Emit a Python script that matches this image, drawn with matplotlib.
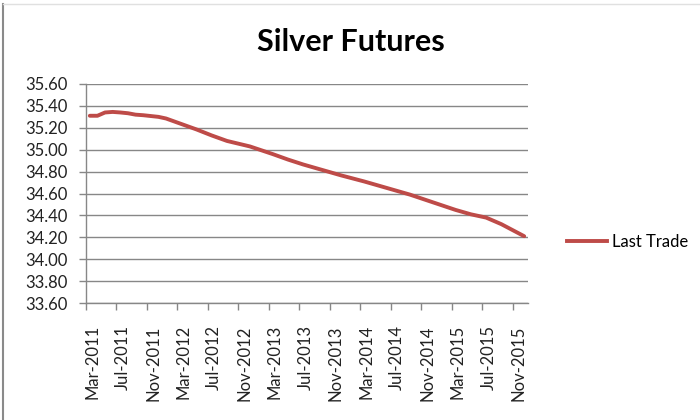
import pandas as pd
import matplotlib
import matplotlib.pyplot as plt
from matplotlib.lines import Line2D
matplotlib.use('Agg')

# contract month and last trade price
contracts = ["Mar-2011", "Apr-2011", "May-2011", "Jun-2011", "Jul-2011", "Aug-2011",
             "Sep-2011", "Oct-2011", "Dec-2011", "Jan-2012", "Feb-2012", "Mar-2012",
             "May-2012", "Jul-2012", "Sep-2012", "Dec-2012", "Mar-2013", "May-2013",
             "Jul-2013", "Sep-2013", "Dec-2013", "Mar-2014", "May-2014", "Jul-2014",
             "Sep-2014", "Dec-2014", "Mar-2015", "May-2015", "Jul-2015", "Sep-2015",
             "Dec-2015"]
last_trade = [35.31, 35.31, 35.34, 35.345, 35.34, 35.333,
              35.32, 35.315, 35.30, 35.285, 35.26, 35.235,
              35.185, 35.13, 35.08, 35.03, 34.96, 34.91,
              34.865, 34.825, 34.765, 34.71, 34.67, 34.63,
              34.59, 34.52, 34.45, 34.41, 34.38, 34.32,
              34.21]
tick_labels = ["Mar-2011", "Jul-2011", "Nov-2011", "Mar-2012", "Jul-2012",
               "Nov-2012", "Mar-2013", "Jul-2013", "Nov-2013", "Mar-2014",
               "Jul-2014", "Nov-2014", "Mar-2015", "Jul-2015", "Nov-2015"]
y_ticks = [33.6, 33.8, 34.0, 34.2, 34.4, 34.6, 34.8, 35.0, 35.2, 35.4, 35.6]

plt.rcParams['font.family'] = ['Lato', 'DejaVu Sans']

dates = pd.to_datetime(pd.Series(contracts), format="%b-%Y")
start = pd.Timestamp("2011-03-01")
x = (dates.dt.year - start.year) * 12 + (dates.dt.month - start.month) + 0.5

fig = plt.figure(figsize=(7, 4.2), dpi=100)
ax = fig.add_axes([86/700, 1 - 303/420, (528 - 86)/700, (303 - 84)/420])

grid_col = '#878787'
red = '#BE4B48'

ax.plot(x, last_trade, color=red, lw=2.8, solid_capstyle='round',
        solid_joinstyle='round')

ax.set_xlim(0, 58)
ax.set_ylim(33.6, 35.6)
ax.set_yticks(y_ticks)
ax.set_yticklabels(['%.2f' % v for v in y_ticks], fontsize=12, color='#222222')
ax.yaxis.grid(True, color=grid_col, lw=1.0)
ax.set_axisbelow(True)

# tick marks every 4 months, labels a little to the right of each tick
ax.set_xticks(range(0, 57, 4))
ax.set_xticklabels([])
ax.set_xticks([t + 0.8 for t in range(0, 57, 4)], minor=True)
ax.set_xticklabels(tick_labels, minor=True, rotation=90, fontsize=12,
                   va='top', ha='center', color='#222222')
ax.tick_params(axis='x', which='major', length=5, color=grid_col, width=1)
ax.tick_params(axis='x', which='minor', length=0, pad=16)
ax.tick_params(axis='y', length=5, color=grid_col, width=1, pad=8)

for s in ['top', 'right']:
    ax.spines[s].set_visible(False)
for s in ['left', 'bottom']:
    ax.spines[s].set_color(grid_col)
    ax.spines[s].set_linewidth(1.0)

fig.text(351/700, 1 - 42/420, 'Silver Futures', fontsize=22, fontweight='bold',
         ha='center', va='center')

handle = Line2D([], [], color=red, lw=2.8)
fig.legend([handle], ['Last Trade'], loc='center left', frameon=False,
           bbox_to_anchor=(552/700, 1 - 242/420), fontsize=12,
           handlelength=2.4, handletextpad=0.3)

# chart area border (left and top edge visible)
fig.add_artist(Line2D([2.5/700, 2.5/700], [0, 1 - 4/420], color='#8a8a8a', lw=1.5,
                      transform=fig.transFigure))
fig.add_artist(Line2D([2.5/700, 1], [1 - 4/420, 1 - 4/420], color='#e0e0e0', lw=1,
                      transform=fig.transFigure))

plt.savefig('out.png', dpi=100)
